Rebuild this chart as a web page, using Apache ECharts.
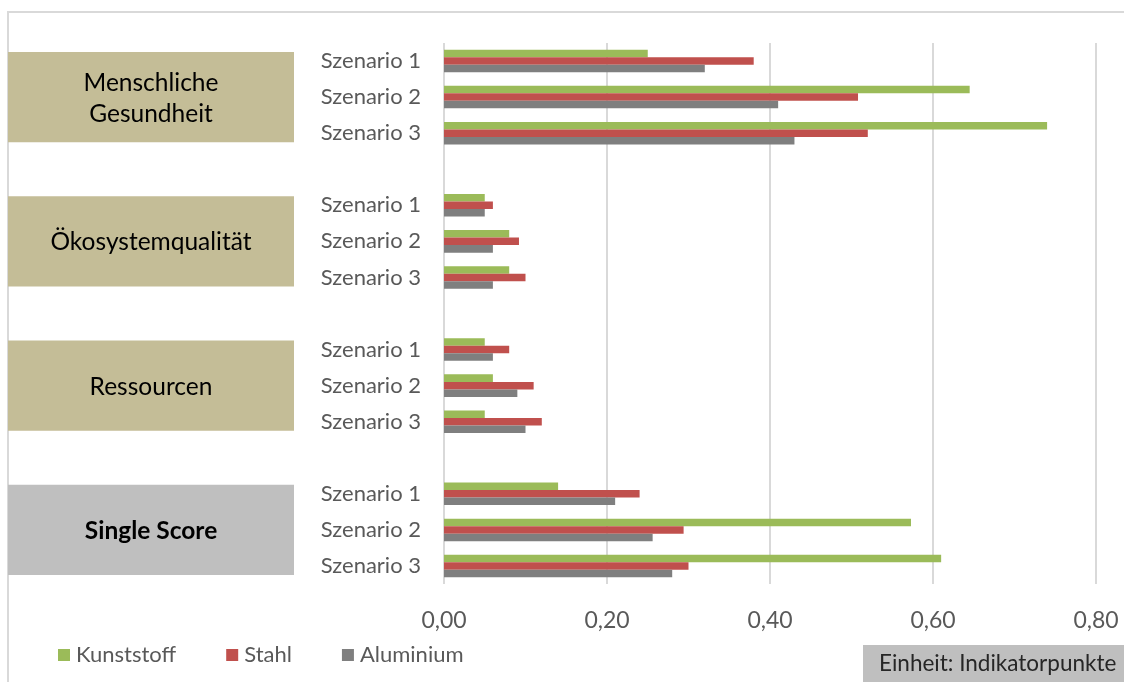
<!DOCTYPE html>
<html>
<head>
<meta charset="utf-8">
<script src="https://cdn.jsdelivr.net/npm/echarts@6/dist/echarts.min.js"></script>
<style>
  html, body { margin: 0; padding: 0; background: #ffffff; }
  #chart { width: 1124px; height: 682px; }
</style>
</head>
<body>
<div id="chart"></div>
<script>
// Impact categories (left boxes) and scenarios (axis labels)
const groups = ['Menschliche\nGesundheit', 'Ökosystemqualität', 'Ressourcen', 'Single Score'];
const scenarios = ['Szenario 1', 'Szenario 2', 'Szenario 3'];
const seriesNames = ['Kunststoff', 'Stahl', 'Aluminium'];
const xTicks = [0, 0.2, 0.4, 0.6, 0.8];

// Indicator points per category, Szenario 1..3
const kunststoff = [
  [0.25, 0.645, 0.74],
  [0.05, 0.08, 0.08],
  [0.05, 0.06, 0.05],
  [0.14, 0.573, 0.61]
];
const stahl = [
  [0.38, 0.508, 0.52],
  [0.06, 0.092, 0.10],
  [0.08, 0.11, 0.12],
  [0.24, 0.294, 0.30]
];
const aluminium = [
  [0.32, 0.41, 0.43],
  [0.05, 0.06, 0.06],
  [0.06, 0.09, 0.10],
  [0.21, 0.256, 0.28]
];

const colors = ['#9bbb59', '#c0504d', '#7f7f7f'];
const FONT = 'Lato, "Open Sans", sans-serif';

// Category rows: three scenarios per group, one empty row between groups
const categories = [];
const middleIndex = [];
groups.forEach((g, gi) => {
  scenarios.forEach((s, si) => {
    if (si === 1) middleIndex.push(categories.length);
    categories.push(s);
  });
  if (gi < groups.length - 1) categories.push('');
});

function rows(values) {
  const out = [];
  values.forEach((grp, gi) => {
    grp.forEach(v => out.push(v));
    if (gi < values.length - 1) out.push(null);
  });
  return out;
}

const chart = echarts.init(document.getElementById('chart'), null, { renderer: 'canvas' });

const option = {
  animation: false,
  backgroundColor: '#ffffff',
  textStyle: { fontFamily: FONT },
  grid: { left: 444, right: 28, top: 43, bottom: 98, containLabel: false },
  legend: {
    left: 58, top: 644, padding: 0,
    icon: 'rect', itemWidth: 12, itemHeight: 12, itemGap: 50,
    textStyle: { fontFamily: FONT, fontSize: 22, color: '#595959', padding: [0, 0, 0, 1] },
    data: seriesNames
  },
  xAxis: {
    type: 'value', min: xTicks[0], max: xTicks[xTicks.length - 1], interval: 0.2,
    axisLine: { show: false }, axisTick: { show: false },
    splitLine: { show: true, lineStyle: { color: '#d9d9d9', width: 2 } },
    axisLabel: {
      margin: 25, fontFamily: FONT, fontSize: 23, color: '#595959',
      formatter: v => v.toFixed(2).replace('.', ',')
    }
  },
  yAxis: {
    type: 'category', inverse: true, data: categories,
    axisLine: { show: false }, axisTick: { show: false },
    axisLabel: { margin: 23, fontFamily: FONT, fontSize: 22, color: '#595959', interval: 0 }
  },
  series: [kunststoff, stahl, aluminium].map((vals, i) => ({
    name: seriesNames[i], type: 'bar', data: rows(vals),
    barGap: '0%', barCategoryGap: '37.5%',
    itemStyle: { color: colors[i] }
  }))
};

chart.setOption(option);

// Category boxes on the left, centred on the middle scenario of each group
const band = Math.abs(chart.convertToPixel({ yAxisIndex: 0 }, 1) - chart.convertToPixel({ yAxisIndex: 0 }, 0));
const boxH = band * 2.5;
const graphics = [
  {
    type: 'rect', z: -10, silent: true,
    shape: { x: 8, y: 12, width: 1300, height: 900 },
    style: { fill: 'none', stroke: '#d9d9d9', lineWidth: 2 }
  }
];
groups.forEach((g, gi) => {
  const cy = chart.convertToPixel({ yAxisIndex: 0 }, middleIndex[gi]);
  const last = gi === groups.length - 1;
  graphics.push({
    type: 'rect', silent: true,
    shape: { x: 8, y: cy - boxH / 2, width: 286, height: boxH },
    style: { fill: last ? '#bfbfbf' : '#c4bd97' }
  });
  graphics.push({
    type: 'text', silent: true,
    x: 151, y: cy + 1,
    style: {
      text: g, align: 'center', verticalAlign: 'middle',
      font: (last ? 'bold ' : '') + '24.5px ' + FONT,
      lineHeight: 31, fill: '#000000'
    }
  });
});
// Unit note
graphics.push({
  type: 'rect', silent: true,
  shape: { x: 863, y: 645, width: 270, height: 40 },
  style: { fill: '#bfbfbf' }
});
graphics.push({
  type: 'text', silent: true,
  x: 879, y: 664,
  style: {
    text: 'Einheit: Indikatorpunkte', align: 'left', verticalAlign: 'middle',
    font: '22.5px ' + FONT, fill: '#262626'
  }
});
chart.setOption({ graphic: graphics });
</script>
</body>
</html>
